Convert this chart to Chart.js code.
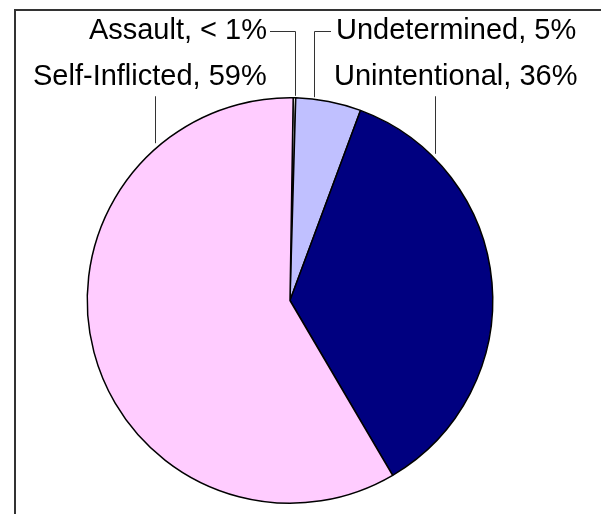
<!DOCTYPE html>
<html>
<head>
<meta charset="utf-8">
<script src="https://cdn.jsdelivr.net/npm/chart.js@4/dist/chart.umd.min.js"></script>
<style>
  html, body { margin: 0; padding: 0; background: #ffffff; }
  #wrap { position: relative; width: 601px; height: 514px; overflow: hidden; }
  #frame {
    position: absolute; left: 14px; top: 9px; width: 800px; height: 800px;
    border-left: 2px solid #333333; border-top: 2px solid #333333;
  }
  #c { position: absolute; left: 0; top: 0; }
</style>
</head>
<body>
<div id="wrap">
  <div id="frame"></div>
  <canvas id="c" width="601" height="514"></canvas>
</div>
<script>
// Share of injury deaths by intent (percent), clockwise from 12 o'clock
const categories = ['Assault', 'Undetermined', 'Unintentional', 'Self-Inflicted'];
const shares = [0.2, 5.2, 35.9, 58.7];
const sliceColors = ['#FFFFFF', '#C0C0FF', '#000080', '#FFCCFF'];

// Label placement: text anchor, alignment, and the leader line that drops to the rim
const labelPlacement = [
  { x: 267, y: 39, align: 'right', fromX: 270, fromY: 31, stemX: 295, gap: 2 },
  { x: 336, y: 39, align: 'left',  fromX: 331, fromY: 31, stemX: 314, gap: 2 },
  { x: 334, y: 85, align: 'left',  fromX: 435, fromY: 96, stemX: 435, gap: 5 },
  { x: 33,  y: 85, align: 'left',  fromX: 155, fromY: 96, stemX: 155, gap: 6 }
];

function labelText(i) {
  const total = shares.reduce((a, b) => a + b, 0);
  const pct = shares[i] / total * 100;
  return categories[i] + ', ' + (pct < 1 ? '< 1' : Math.round(pct)) + '%';
}

const calloutPlugin = {
  id: 'callouts',
  afterDatasetsDraw(chart) {
    const ctx = chart.ctx;
    const meta = chart.getDatasetMeta(0);
    ctx.save();
    ctx.font = '29px "Liberation Sans", Arial, sans-serif';
    ctx.fillStyle = '#000000';
    ctx.textBaseline = 'alphabetic';
    labelPlacement.forEach((p, i) => {
      const arc = meta.data[i];
      const cx = arc.x, cy = arc.y, r = arc.outerRadius;
      const dx = p.stemX - cx;
      const rimY = cy - Math.sqrt(Math.max(r * r - dx * dx, 0));
      ctx.save();
      ctx.strokeStyle = '#333333';
      ctx.lineWidth = 1;
      ctx.beginPath();
      ctx.moveTo(p.fromX, p.fromY + 0.5);
      ctx.lineTo(p.stemX + 0.5, p.fromY + 0.5);
      ctx.lineTo(p.stemX + 0.5, rimY - p.gap);
      ctx.stroke();
      ctx.restore();

      ctx.textAlign = p.align;
      ctx.fillText(labelText(i), p.x, p.y);
    });
    ctx.restore();
  }
};

new Chart(document.getElementById('c'), {
  type: 'pie',
  data: {
    labels: categories,
    datasets: [{
      data: shares,
      backgroundColor: sliceColors,
      borderColor: '#000000',
      borderWidth: 1.5
    }]
  },
  options: {
    responsive: false,
    animation: false,
    rotation: 0.9,
    layout: { padding: { left: 86, right: 107, top: 97, bottom: 10 } },
    plugins: {
      legend: { display: false },
      tooltip: { enabled: false }
    }
  },
  plugins: [calloutPlugin]
});
</script>
</body>
</html>
